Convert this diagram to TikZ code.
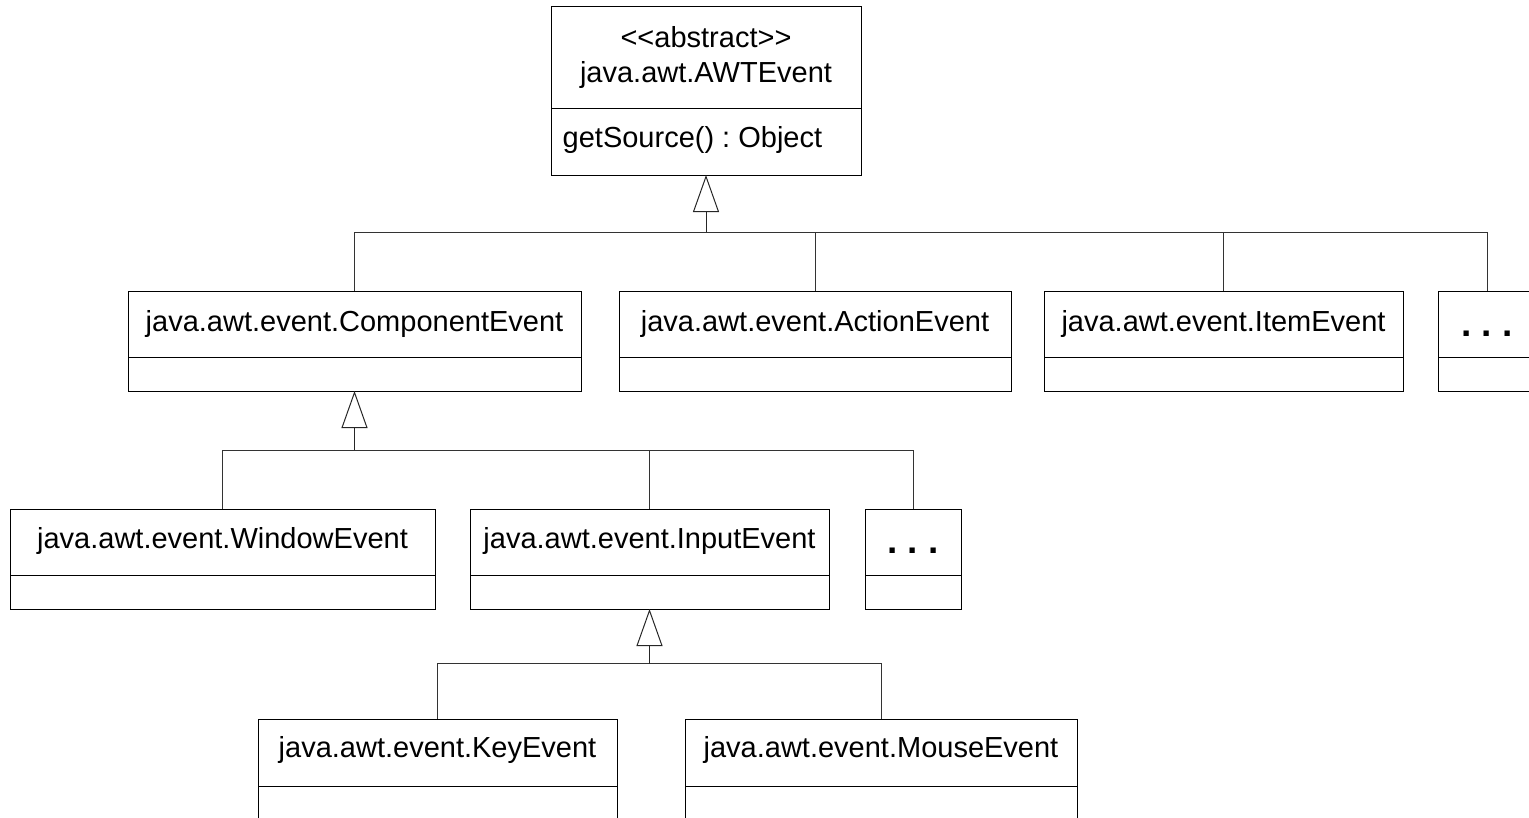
\documentclass[tikz,border=0pt]{standalone}
\usepackage{fontspec}
\setmainfont{Liberation Sans}
\usetikzlibrary{arrows.meta}
\frenchspacing
\begin{document}
\begin{tikzpicture}[x=1pt,y=-1pt,
  classbox/.style={draw=black, line width=1pt, fill=white, inner sep=0pt, outer sep=0pt, anchor=north west},
  divider/.style={draw=black, line width=1pt},
  cname/.style={anchor=base, inner sep=0pt, font=\fontsize{29}{34}\selectfont},
  member/.style={anchor=base west, inner sep=0pt, font=\fontsize{29}{34}\selectfont},
  dots/.style={anchor=base, inner sep=0pt, font=\fontsize{37}{40}\selectfont\bfseries},
  link/.style={draw=black!80, line width=1pt},
  inherit/.style={draw=black!85, line width=1pt, -{Triangle[open, length=37pt, width=26pt, line width=1pt]}}
]
\useasboundingbox (0,0) rectangle (1529,817);
\clip (0,0) rectangle (1529,817);

% ---- root class ----
\node[classbox, minimum width=310pt, minimum height=168.5pt] (awt) at (551,6.5) {};
\draw[divider] (awt.west |- 0,108) -- (awt.east |- 0,108);
\node[cname] (awtS) at ([yshift=-40.5pt]awt.north) {<\kern0pt<abstract>\kern0pt>};
\node[cname] (awtT) at ([yshift=-75.5pt]awt.north) {java.awt.AWTEvent};
\node[member] (awtM) at (562.5,147) {getSource() : Object};

% ---- second level ----
\node[classbox, minimum width=453pt, minimum height=100pt] (comp) at (128,291) {};
\node[classbox, minimum width=392pt, minimum height=100pt] (action) at (619,291) {};
\node[classbox, minimum width=359pt, minimum height=100pt] (item) at (1044,291) {};
\node[classbox, minimum width=97pt, minimum height=100pt] (more1) at (1438.5,291) {};
\foreach \b in {comp,action,item,more1}
  \draw[divider] (\b.west |- 0,357.5) -- (\b.east |- 0,357.5);
\node[cname] (compT) at ([yshift=-40pt]comp.north) {java.awt.event.ComponentEvent};
\node[cname] (actionT) at ([yshift=-40pt]action.north) {java.awt.event.ActionEvent};
\node[cname] (itemT) at ([yshift=-40pt]item.north) {java.awt.event.ItemEvent};
\node[dots] (more1T) at ([yshift=-45pt]more1.north) {. . .};

% ---- third level ----
\node[classbox, minimum width=425pt, minimum height=100pt] (window) at (10,509) {};
\node[classbox, minimum width=359pt, minimum height=100pt] (input) at (470,509) {};
\node[classbox, minimum width=96pt, minimum height=100pt] (more2) at (865,509) {};
\foreach \b in {window,input,more2}
  \draw[divider] (\b.west |- 0,575) -- (\b.east |- 0,575);
\node[cname] (windowT) at ([yshift=-39pt]window.north) {java.awt.event.WindowEvent};
\node[cname] (inputT) at ([yshift=-39pt]input.north) {java.awt.event.InputEvent};
\node[dots] (more2T) at ([yshift=-44pt]more2.north) {. . .};

% ---- fourth level ----
\node[classbox, minimum width=359pt, minimum height=130pt] (key) at (258,719) {};
\node[classbox, minimum width=392pt, minimum height=130pt] (mouse) at (685,719) {};
\foreach \b in {key,mouse}
  \draw[divider] (\b.west |- 0,786) -- (\b.east |- 0,786);
\node[cname] (keyT) at ([yshift=-38pt]key.north) {java.awt.event.KeyEvent};
\node[cname] (mouseT) at ([yshift=-38pt]mouse.north) {java.awt.event.MouseEvent};

% ---- generalisation trees ----
\coordinate (bus0) at (706,232);
\foreach \c in {comp,action,item,more1}
  \draw[link] (\c.north) |- (bus0);
\draw[inherit] (bus0) -- (awt.south);

\coordinate (bus1) at (354.5,450);
\foreach \c in {window,input,more2}
  \draw[link] (\c.north) |- (bus1);
\draw[inherit] (bus1) -- (comp.south);

\coordinate (bus2) at (649.5,663.5);
\foreach \c in {key,mouse}
  \draw[link] (\c.north) |- (bus2);
\draw[inherit] (bus2) -- (input.south);
\end{tikzpicture}
\end{document}
